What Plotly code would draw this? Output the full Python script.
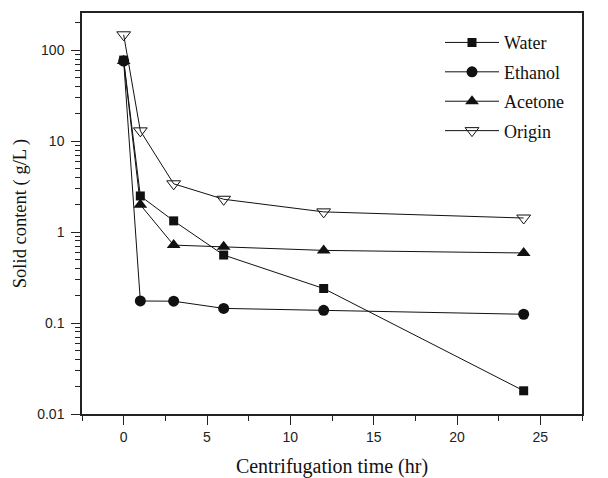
import plotly.graph_objects as go

# Centrifugation time (hr)
time_hr = [0, 1, 3, 6, 12, 24]

# Solid content (g/L) per treatment
water = [78, 2.5, 1.33, 0.56, 0.24, 0.018]
ethanol = [76, 0.175, 0.174, 0.145, 0.138, 0.125]
acetone = [76, 2.0, 0.72, 0.69, 0.63, 0.59]
origin = [148, 13, 3.4, 2.3, 1.67, 1.43]

y_tick_vals = [0.01, 0.1, 1, 10, 100]
y_tick_text = ["0.01", "0.1", "1", "10", "100"]

SERIF = "Liberation Serif, Times New Roman, serif"
SANS = "Liberation Sans, Arial, sans-serif"

series = [
    ("Water", water, dict(symbol="square", size=9, color="#111")),
    ("Ethanol", ethanol, dict(symbol="circle", size=11, color="#111")),
    ("Acetone", acetone, dict(symbol="triangle-up", size=12, color="#111")),
    ("Origin", origin, dict(symbol="triangle-down-open", size=12, color="#111",
                            line=dict(width=1, color="#111"))),
]

fig = go.Figure()
for name, vals, mk in series:
    fig.add_trace(go.Scatter(
        x=time_hr, y=vals, name=name, legendgroup=name,
        mode="lines+markers",
        line=dict(color="#111", width=1),
        marker=mk,
    ))

minor_y = [m * 10 ** e for e in range(-2, 3) for m in range(2, 10)]

fig.update_layout(
    width=608, height=478,
    margin=dict(l=82, r=26, t=13, b=64),
    paper_bgcolor="white", plot_bgcolor="white",
    showlegend=True,
    legend=dict(
        x=0.716, y=0.972, xanchor="left", yanchor="top",
        bgcolor="rgba(0,0,0,0)",
        font=dict(family=SERIF, size=18, color="#111"),
        itemwidth=54, tracegroupgap=3, traceorder="grouped",
    ),
    xaxis=dict(
        range=[-2.5, 27.5], tick0=0, dtick=5, automargin=False,
        ticks="outside", ticklen=9, tickwidth=1.3, tickcolor="#222",
        showline=True, linewidth=1.5, linecolor="#222", mirror=True,
        showgrid=False, zeroline=False,
        minor=dict(dtick=2.5, tick0=0, ticks="outside", ticklen=5,
                   tickwidth=1.3, tickcolor="#222", showgrid=False),
        tickfont=dict(family=SANS, size=14, color="#222"),
        title=dict(text="Centrifugation time (hr)",
                   font=dict(family=SERIF, size=20, color="#111"), standoff=16),
    ),
    yaxis=dict(
        type="log", range=[-2, 2.41], automargin=False,
        tickmode="array", tickvals=y_tick_vals, ticktext=y_tick_text,
        ticks="outside", ticklen=9, tickwidth=1.3, tickcolor="#222",
        showline=True, linewidth=1.5, linecolor="#222", mirror=True,
        showgrid=False, zeroline=False,
        minor=dict(tickmode="array", tickvals=minor_y, ticks="outside",
                   ticklen=5, tickwidth=1.3, tickcolor="#222", showgrid=False),
        tickfont=dict(family=SANS, size=14, color="#222"),
        ticklabelstandoff=4,
        title=dict(text="Solid content ( g/L )",
                   font=dict(family=SERIF, size=18.5, color="#111"), standoff=6),
    ),
)

fig.write_html("out.html")
